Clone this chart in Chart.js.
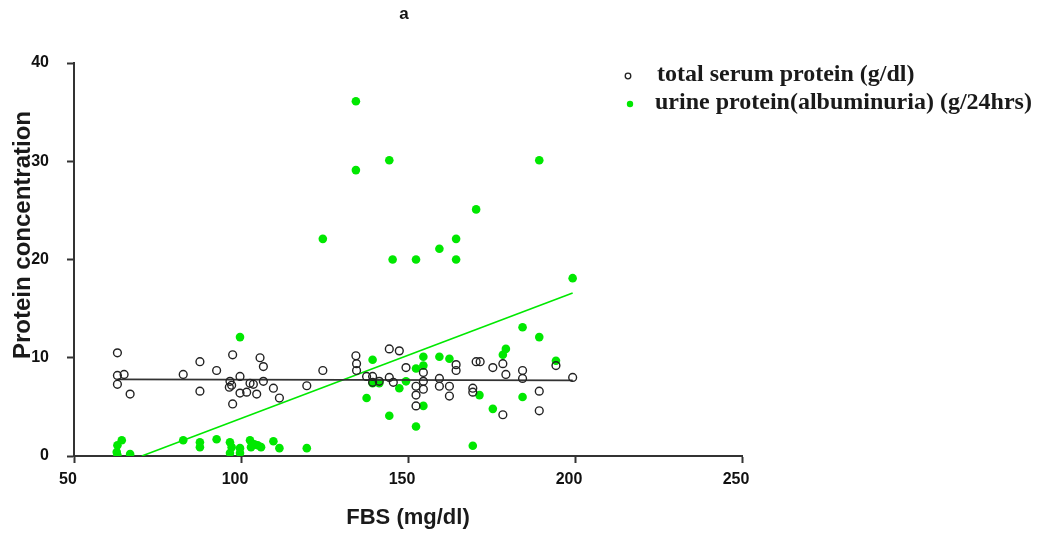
<!DOCTYPE html>
<html>
<head>
<meta charset="utf-8">
<script src="https://cdn.jsdelivr.net/npm/chart.js@4.4.1/dist/chart.umd.min.js"></script>
<style>
  html, body { margin: 0; padding: 0; background: #fff; }
  #wrap { width: 1044px; height: 533px; }
</style>
</head>
<body>
<div id="wrap"><canvas id="chart"></canvas></div>
<script>
// total serum protein (g/dl) vs FBS
const serumFbs = [63.0, 63.0, 65.0, 63.0, 66.8, 82.7, 87.7, 87.7, 92.7, 97.5, 96.7, 97.2, 96.5, 99.7, 97.5, 99.7,
  101.7, 102.7, 103.7, 104.7, 105.7, 106.7, 106.7, 109.7, 111.5, 119.7, 124.5, 134.4, 134.6, 134.6, 137.6, 139.4,
  139.4, 141.4, 144.4, 147.4, 144.4, 145.6, 149.4, 152.4, 152.4, 152.4, 154.6, 154.6, 154.6, 159.4, 159.4, 162.4,
  162.4, 164.4, 164.4, 169.4, 169.4, 170.4, 171.6, 175.4, 178.4, 179.3, 178.4, 184.3, 184.3, 189.3, 189.3, 194.3, 199.3]
const serumValues = [10.5, 8.2, 8.3, 7.3, 6.3, 8.3, 9.6, 6.6, 8.7, 10.3, 7.6, 7.2, 7.0, 8.1, 5.3, 6.4,
  6.5, 7.4, 7.3, 6.3, 10.0, 9.1, 7.6, 6.9, 5.9, 7.15, 8.7, 10.2, 9.4, 8.7, 8.1, 8.1,
  7.5, 7.6, 10.9, 10.7, 8.0, 7.5, 9.0, 7.1, 6.2, 5.1, 8.5, 7.6, 6.8, 7.9, 7.1, 7.1,
  6.1, 9.3, 8.7, 6.9, 6.5, 9.6, 9.6, 9.0, 9.4, 8.3, 4.2, 8.7, 7.9, 6.6, 4.6, 9.2, 8.0]

// urine protein (albuminuria) (g/24hrs) vs FBS
const urineFbs = [62.8, 63.0, 64.3, 63.0, 66.8, 82.7, 87.7, 87.7, 92.7, 96.7, 97.2, 96.7, 99.7, 99.7, 102.7, 104.0,
  103.0, 105.0, 106.0, 109.7, 111.5, 119.7, 99.7, 124.5, 134.4, 134.4, 144.4, 145.4, 152.4, 159.4, 164.4, 164.4,
  170.4, 189.3, 199.3, 184.3, 189.3, 139.4, 137.6, 139.4, 141.4, 144.4, 147.4, 149.4, 152.4, 152.4, 154.6, 154.6,
  154.6, 159.4, 162.4, 171.4, 169.4, 175.4, 178.4, 179.3, 184.3, 194.3]
const urineValues = [0.4, 1.1, 1.6, 0.1, 0.2, 1.6, 1.4, 0.9, 1.7, 1.4, 0.9, 0.3, 0.8, 0.3, 1.6, 1.2,
  0.9, 1.1, 0.9, 1.5, 0.8, 0.8, 12.1, 22.1, 36.1, 29.1, 30.1, 20.0, 20.0, 21.1, 22.1, 20.0,
  25.1, 30.1, 18.1, 13.1, 12.1, 9.8, 5.9, 7.4, 7.4, 4.1, 6.9, 7.6, 8.9, 3.0, 10.1, 9.2,
  5.1, 10.1, 9.9, 6.2, 1.05, 4.8, 10.3, 10.9, 6.0, 9.7]

// fitted lines, end points
const serumFitX = [63.0, 199.3]
const serumFitY = [7.8, 7.7]
const urineFitX = [70.3, 199.3]
const urineFitY = [0, 16.6]

const xTicks = [50, 100, 150, 200, 250]
const yTicks = [0, 10, 20, 30, 40]

const seriesLabels = ['total serum protein (g/dl)', 'urine protein(albuminuria) (g/24hrs)']

const toPoints = (xs, ys) => xs.map((x, i) => ({ x: x, y: ys[i] }))

const GREEN = '#00e800'
const AXIS = '#333'

// title, y axis title and legend drawn by hand (legend sits inside the plot)
const extras = {
  id: 'extras',
  afterDraw(chart) {
    const ctx = chart.ctx
    const area = chart.chartArea
    ctx.save()

    ctx.fillStyle = '#111'
    ctx.font = 'bold 17px "Liberation Sans", Arial, sans-serif'
    ctx.textAlign = 'center'
    ctx.textBaseline = 'middle'
    ctx.fillText('a', area.left + 330, 14)

    ctx.save()
    ctx.translate(23, area.top + 172)
    ctx.rotate(-Math.PI / 2)
    ctx.font = 'bold 24px "Liberation Sans", Arial, sans-serif'
    ctx.fillStyle = '#1a1a1a'
    ctx.fillText('Protein concentration', 0, 0)
    ctx.restore()

    ctx.textAlign = 'left'
    ctx.font = 'bold 24px "Liberation Serif", "Times New Roman", serif'
    ctx.fillStyle = '#1a1a1a'
    ctx.fillText(seriesLabels[0], 657, 75)
    ctx.fillText(seriesLabels[1], 655, 103)

    ctx.lineWidth = 1.3
    ctx.strokeStyle = '#222'
    ctx.beginPath()
    ctx.arc(628, 76, 2.8, 0, Math.PI * 2)
    ctx.stroke()
    ctx.fillStyle = GREEN
    ctx.beginPath()
    ctx.arc(630, 104, 3.2, 0, Math.PI * 2)
    ctx.fill()

    ctx.restore()
  }
}

const ctx = document.getElementById('chart')

new Chart(ctx, {
  type: 'scatter',
  data: {
    datasets: [
      {
        label: seriesLabels[0],
        data: toPoints(serumFbs, serumValues),
        pointStyle: 'circle',
        pointRadius: 3.9,
        pointBorderWidth: 1.4,
        borderColor: '#222',
        backgroundColor: 'rgba(0,0,0,0)'
      },
      {
        type: 'line',
        label: 'serum fit',
        data: toPoints(serumFitX, serumFitY),
        borderColor: '#333',
        borderWidth: 1.6,
        pointRadius: 0,
        fill: false
      },
      {
        type: 'line',
        label: 'urine fit',
        data: toPoints(urineFitX, urineFitY),
        borderColor: GREEN,
        borderWidth: 1.6,
        pointRadius: 0,
        fill: false
      },
      {
        label: seriesLabels[1],
        data: toPoints(urineFbs, urineValues),
        pointStyle: 'circle',
        pointRadius: 4.3,
        borderWidth: 0,
        borderColor: GREEN,
        backgroundColor: GREEN
      }
    ]
  },
  options: {
    responsive: true,
    maintainAspectRatio: false,
    animation: false,
    layout: {
      padding: { top: 63, right: 302, left: 0, bottom: 0 }
    },
    plugins: {
      legend: { display: false },
      tooltip: { enabled: false },
      title: { display: false }
    },
    scales: {
      x: {
        type: 'linear',
        min: 50,
        max: 250,
        afterFit: (scale) => { scale.height = 77 },
        afterBuildTicks: (scale) => { scale.ticks = xTicks.map(v => ({ value: v })) },
        border: { display: true, color: AXIS, width: 2 },
        grid: { drawOnChartArea: false, drawTicks: true, tickLength: 7, tickColor: AXIS, tickWidth: 2 },
        ticks: {
          padding: 7,
          labelOffset: -6,
          color: '#111',
          font: { family: '"Liberation Sans", Arial, sans-serif', size: 16, weight: 'bold' }
        },
        title: {
          display: true,
          text: 'FBS (mg/dl)',
          color: '#1a1a1a',
          padding: { top: 0, bottom: 2 },
          font: { family: '"Liberation Sans", Arial, sans-serif', size: 22, weight: 'bold' }
        }
      },
      y: {
        type: 'linear',
        min: 0,
        max: 40,
        afterFit: (scale) => { scale.width = 74 },
        afterBuildTicks: (scale) => { scale.ticks = yTicks.map(v => ({ value: v })) },
        border: { display: true, color: AXIS, width: 2 },
        grid: { drawOnChartArea: false, drawTicks: true, tickLength: 7, tickColor: AXIS, tickWidth: 2 },
        ticks: {
          padding: 18,
          color: '#111',
          font: { family: '"Liberation Sans", Arial, sans-serif', size: 16, weight: 'bold' }
        }
      }
    }
  },
  plugins: [extras]
})
</script>
</body>
</html>
